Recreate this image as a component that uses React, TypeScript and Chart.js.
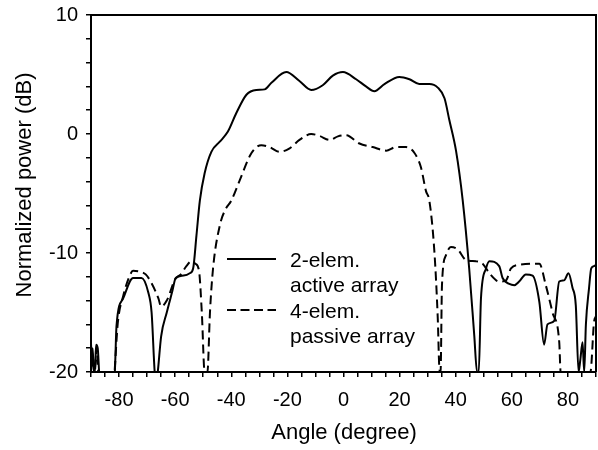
import React, { useEffect, useRef } from "react";
import { Chart, registerables } from "chart.js";

Chart.register(...registerables);

const activeAngles = [
  -90, -89.4, -89, -88.6, -88.2, -87.6, -87.1, -86.6, -86.2, -82, -81.5, -80.9, -78.5, -75, -72, -69.6, -68.4, -67.3,
  -66.8, -66.2, -65, -63, -61, -59.8, -57, -54.8, -53.6, -52.4, -51.2, -49.5, -47.1, -44.1, -41.2, -38.2, -34.6,
  -31.1, -28.1, -25.7, -20.4, -15.7, -11.5, -7.4, -3.8, -0.2, 4.5, 8, 11, 14.6, 19.9, 23.5, 27, 30.6, 33.6, 36,
  37.7, 40.1, 42.5, 44.8, 46.6, 47.6, 48.2, 49, 50.8, 52, 55.5, 56.7, 59.1, 60.9, 62.6, 65, 67.4, 69.8, 71.5, 72.7,
  75.1, 76.9, 78.6, 80.2, 81.6, 82.8, 83.8, 84.4, 85.2, 85.8, 86.4, 87.5, 88.3, 89.3, 90,
];
const activePower = [
  -20, -18, -20, -20, -17.7, -18, -20, -21, -21, -21, -20, -16.1, -13.8, -12.1, -12.1, -13.3, -15, -20,
  -21, -20, -17, -15, -13.2, -12.1, -11.9, -11.7, -11.3, -8.5, -5.6, -3.3, -1.5, -0.65, 0.2, 1.76, 3.3,
  3.7, 3.75, 4.3, 5.2, 4.45, 3.7, 4.1, 4.9, 5.2, 4.6, 4.0, 3.6, 4.2, 4.8, 4.6, 4.2, 4.2, 3.9, 3.0,
  1.2, -1.4, -5.6, -11.3, -16.9, -20, -20, -13.8, -11.3, -10.7, -11.1, -12.1, -12.6, -12.7, -12.4, -11.8, -11.9, -14.1, -17.7, -16,
  -15.7, -12.4, -12.3, -11.7, -12.9, -14.4, -20, -19, -17.5, -20, -16, -13, -11.3, -11.1, -11,
];

const passiveAngles = [
  -90, -89.5, -89, -88.6, -88, -87.4, -86.8, -82, -81.6, -80.5, -78.5, -76, -75, -72, -70.5, -68.5, -66, -65,
  -63, -60, -58, -56, -54.2, -52.8, -51.5, -50.5, -49.5, -48.5, -47.6, -46.5, -44, -42.2, -40, -37, -32.8,
  -29.3, -26.3, -22.8, -19.2, -15.7, -11.5, -8.5, -5, -2, 0.95, 5.7, 10.4, 15.2, 18.7, 22.3, 25.3, 27.6, 29.4,
  30.6, 32.4, 33.6, 34.2, 34.6, 35.1, 36.5, 38.3, 40.7, 43.7, 47.2, 49.6, 52, 55.5, 57.9, 59.7, 62.6, 69.8,
  72.1, 74.5, 76.9, 77.4, 86.5, 88, 89.3, 90,
];
const passivePower = [
  -17.6, -20, -21, -20, -18, -20, -21, -21, -20, -16, -13.6, -11.8, -11.5, -11.6, -11.8, -12.5, -13.8, -14.5,
  -14, -12.2, -11.8, -11.1, -10.7, -10.9, -11.5, -15, -20, -20, -15, -11.3, -7.6, -6.4, -5.6, -3.9, -1.6,
  -0.94, -1.1, -1.5, -1.2, -0.5, 0, -0.17, -0.5, -0.2, -0.1, -0.8, -1.1, -1.4, -1.1, -1.1, -1.6, -2.8, -4.8,
  -5.6, -9.9, -15.5, -19.8, -20, -12.7, -10.2, -9.5, -9.7, -10.6, -10.7, -10.9, -11.7, -12.4, -12.3, -11.3, -11, -10.9,
  -12.7, -15, -17.5, -20, -20, -20, -15.8, -15.3,
];

const xTickStep = 5;
const yTickStep = 2;
const legendLabels = [["2-elem.", "active array"], ["4-elem.", "passive array"]];
const xTitle = "Angle (degree)";
const yTitle = "Normalized power (dB)";

const FONT = "'Liberation Sans', Arial, sans-serif";

export default function App() {
  const ref = useRef<HTMLCanvasElement | null>(null);
  useEffect(() => {
    if (!ref.current) return;
    const overlay = {
      id: "overlay",
      afterDraw(chart: any) {
        const { ctx, chartArea } = chart;
        const { left, right, top, bottom } = chartArea;
        ctx.save();
        ctx.strokeStyle = "#000";
        ctx.lineWidth = 2;
        ctx.beginPath();
        ctx.moveTo(left, top);
        ctx.lineTo(right, top);
        ctx.lineTo(right, bottom);
        ctx.stroke();
        // titles
        ctx.fillStyle = "#000";
        ctx.font = `22px ${FONT}`;
        ctx.textAlign = "center";
        ctx.textBaseline = "middle";
        ctx.fillText(xTitle, 344, 433);
        ctx.save();
        ctx.translate(25, 185);
        ctx.rotate(-Math.PI / 2);
        ctx.fillText(yTitle, 0, 0);
        ctx.restore();
        // legend
        const lx0 = 227, lx1 = 276, tx = 290;
        ctx.font = `21px ${FONT}`;
        ctx.textAlign = "left";
        ctx.textBaseline = "alphabetic";
        ctx.lineWidth = 2;
        ctx.setLineDash([]);
        ctx.beginPath();
        ctx.moveTo(lx0, 259);
        ctx.lineTo(lx1, 259);
        ctx.stroke();
        ctx.setLineDash([9, 4.5]);
        ctx.beginPath();
        ctx.moveTo(lx0, 310);
        ctx.lineTo(lx1, 310);
        ctx.stroke();
        ctx.setLineDash([]);
        ctx.fillText(legendLabels[0][0], tx, 267);
        ctx.fillText(legendLabels[0][1], tx, 292);
        ctx.fillText(legendLabels[1][0], tx, 318);
        ctx.fillText(legendLabels[1][1], tx, 343);
        ctx.restore();
      },
    };
    const chart = new Chart(ref.current, {
      type: "line",
      data: {
        datasets: [
          {
            data: activeAngles.map((x, i) => ({ x, y: activePower[i] })),
            borderColor: "#000",
            borderWidth: 2,
            pointRadius: 0,
            cubicInterpolationMode: "monotone",
            fill: false,
          },
          {
            data: passiveAngles.map((x, i) => ({ x, y: passivePower[i] })),
            borderColor: "#000",
            borderWidth: 2,
            borderDash: [9, 5],
            pointRadius: 0,
            cubicInterpolationMode: "monotone",
            fill: false,
          },
        ],
      },
      options: {
        animation: false,
        responsive: false,
        layout: { padding: { left: 0, top: 15, right: 2, bottom: 0 } },
        plugins: { legend: { display: false }, tooltip: { enabled: false } },
        scales: {
          x: {
            type: "linear",
            min: -90,
            max: 90,
            afterFit: (s: any) => { s.height = 78; s.paddingLeft = 0; s.paddingRight = 0; },
            ticks: {
              stepSize: xTickStep,
              autoSkip: false,
              maxRotation: 0,
              padding: 11,
              color: "#000",
              font: { family: FONT, size: 20 },
              callback: (v: any) => (Number(v) % 20 === 0 && Math.abs(Number(v)) < 90 ? String(v) : ""),
            },
            grid: { display: true, drawOnChartArea: false, drawTicks: true, tickLength: 5, color: "#000", lineWidth: 1.5 },
            border: { display: true, color: "#000", width: 2 },
          },
          y: {
            type: "linear",
            min: -20,
            max: 10,
            afterFit: (s: any) => { s.width = 91; s.paddingTop = 0; s.paddingBottom = 0; },
            ticks: {
              stepSize: yTickStep,
              autoSkip: false,
              padding: 8,
              color: "#000",
              font: { family: FONT, size: 20 },
              callback: (v: any) => (Number(v) % 10 === 0 ? String(v) : ""),
            },
            grid: { display: true, drawOnChartArea: false, drawTicks: true, tickLength: 5, color: "#000", lineWidth: 1.5 },
            border: { display: true, color: "#000", width: 2 },
          },
        },
      },
      plugins: [overlay],
    });
    return () => chart.destroy();
  }, []);
  return (
    <canvas
      ref={ref}
      width={598}
      height={450}
      style={{ position: "fixed", left: 0, top: 0, width: 598, height: 450 }}
    />
  );
}
